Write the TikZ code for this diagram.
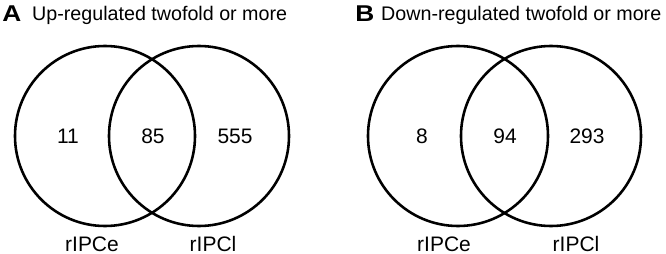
\documentclass[tikz,border=0pt]{standalone}
\usepackage{fontspec}
\setmainfont{Liberation Sans}
\usepackage{tikz}
\usetikzlibrary{positioning}

\begin{document}
\begin{tikzpicture}[
    x=0.03cm, y=-0.03cm,
    every node/.style={inner sep=0pt, font=\fontsize{17.9}{20}\selectfont},
    set/.style={circle, draw, line width=2.2pt, minimum size=5.4cm},
    count/.style={anchor=center},
    setlabel/.style={anchor=base},
    panel/.style={anchor=west, xscale=1.15, font=\fontsize{19.5}{22}\selectfont\bfseries},
    heading/.style={anchor=west, font=\fontsize{16.8}{20}\selectfont}
]
    \useasboundingbox (0,0) rectangle (666,254);

    % panel A
    \node[panel] (pA) at (2,14) {A};
    \node[heading] (hA) at (32,15) {Up-regulated twofold or more};
    \node[set] (eA) at (105,136) {};
    \node[set] (lA) at (199,136) {};
    \node[count] (oeA) at (68,136) {11};
    \node[count] (bA) at (153,136) {85};
    \node[count] (olA) at (235,136) {555};
    \node[setlabel] (neA) at (92,251) {rIPCe};
    \node[setlabel] (nlA) at (213,251) {rIPCl};

    % panel B
    \node[panel] (pB) at (355,14) {B};
    \node[heading] (hB) at (381,15) {Down-regulated twofold or more};
    \node[set] (eB) at (458,136) {};
    \node[set] (lB) at (551,136) {};
    \node[count] (oeB) at (422,136) {8};
    \node[count] (bB) at (505,136) {94};
    \node[count] (olB) at (587,136) {293};
    \node[setlabel] (neB) at (444,251) {rIPCe};
    \node[setlabel] (nlB) at (576,251) {rIPCl};
\end{tikzpicture}
\end{document}
